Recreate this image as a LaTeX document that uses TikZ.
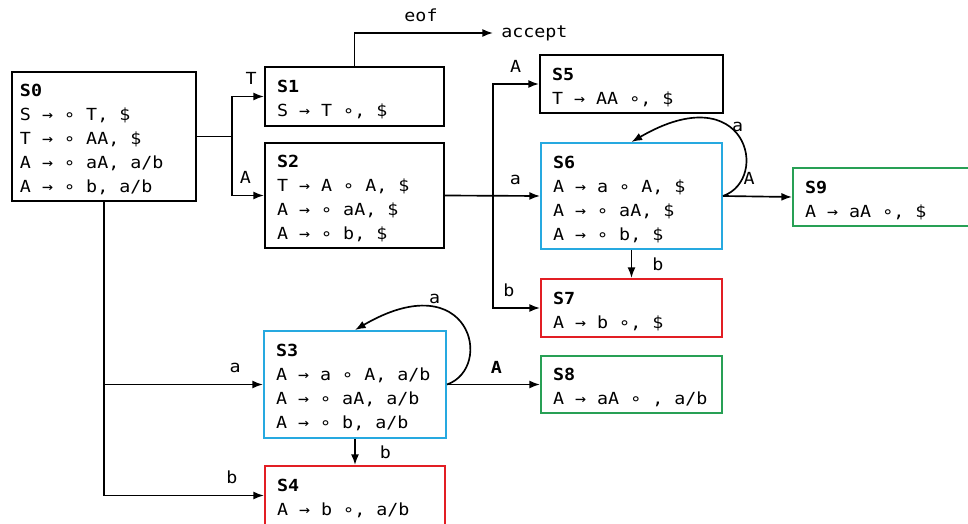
\documentclass[tikz,border=0pt]{standalone}
\usepackage{fontspec}
\setmonofont[FakeStretch=1.1]{DejaVu Sans Mono}
\usepackage{xcolor}
\usepackage{tikz}
\usetikzlibrary{arrows.meta,positioning}

\definecolor{setblue}{RGB}{38,169,224}
\definecolor{setgreen}{RGB}{40,160,85}
\definecolor{setred}{RGB}{226,30,36}

\newcommand{\itemfont}{\ttfamily\fontsize{12.5}{18}\selectfont}
\newlength{\chw}
\AtBeginDocument{\settowidth{\chw}{\itemfont 0}}
\newcommand{\itemarr}{\makebox[\chw]{→}}
\newcommand{\itemdot}{\makebox[\chw]{∘}}
\newcommand{\isp}{\hspace*{\chw}}
\newcommand{\settitle}[1]{\rule{0pt}{14pt}\textbf{#1}}

\tikzset{
    itemset/.style={
        draw,
        line width=1.5pt,
        align=left,
        inner xsep=9pt,
        inner ysep=0pt,
        font=\itemfont
    },
    conn/.style={
        ->,
        >={Latex[length=8pt,width=6pt]},
        line width=1.25pt
    },
    lbl/.style={
        font=\itemfont,
        inner sep=1pt
    }
}

\begin{document}
\begin{tikzpicture}[x=0.75pt, y=-0.75pt]
                \useasboundingbox (0,0) rectangle (968,524);

                % item sets
                \node[itemset, inner xsep=6pt, text width=126pt, minimum height=96.75pt] (s0) at (104,136.5)
                    {\settitle{S0}\\S\isp\itemarr\isp\itemdot\isp T,\isp\$\\T\isp\itemarr\isp\itemdot\isp AA,\isp\$\\
                     A\isp\itemarr\isp\itemdot\isp aA,\isp a/b\\A\isp\itemarr\isp\itemdot\isp b,\isp a/b};
                \node[itemset, text width=116.25pt, minimum height=44.25pt] (s1) at (354.5,96.5)
                    {\settitle{S1}\\S\isp\itemarr\isp T\isp\itemdot,\isp\$};
                \node[itemset, text width=116.25pt, minimum height=78.75pt] (s2) at (354.5,195.5)
                    {\settitle{S2}\\T\isp\itemarr\isp A\isp\itemdot\isp A,\isp\$\\A\isp\itemarr\isp\itemdot\isp aA,\isp\$\\
                     A\isp\itemarr\isp\itemdot\isp b,\isp\$};
                \node[itemset, draw=setblue, text width=118.5pt, minimum height=80.25pt] (s3) at (355,384.5)
                    {\settitle{S3}\\A\isp\itemarr\isp a\isp\itemdot\isp A,\isp a/b\\A\isp\itemarr\isp\itemdot\isp aA,\isp a/b\\
                     A\isp\itemarr\isp\itemdot\isp b,\isp a/b};
                \node[itemset, draw=setred, text width=117pt, minimum height=44.25pt] (s4) at (355,495.5)
                    {\settitle{S4}\\A\isp\itemarr\isp b\isp\itemdot,\isp a/b};
                \node[itemset, text width=119.25pt, minimum height=43.5pt] (s5) at (631.5,84)
                    {\settitle{S5}\\T\isp\itemarr\isp AA\isp\itemdot,\isp\$};
                \node[itemset, draw=setblue, text width=117.75pt, minimum height=79.5pt] (s6) at (631.5,196)
                    {\settitle{S6}\\A\isp\itemarr\isp a\isp\itemdot\isp A,\isp\$\\A\isp\itemarr\isp\itemdot\isp aA,\isp\$\\
                     A\isp\itemarr\isp\itemdot\isp b,\isp\$};
                \node[itemset, draw=setred, text width=117.75pt, minimum height=43.5pt] (s7) at (631.5,308)
                    {\settitle{S7}\\A\isp\itemarr\isp b\isp\itemdot,\isp\$};
                \node[itemset, draw=setgreen, text width=117.75pt, minimum height=42.75pt] (s8) at (631.5,384.5)
                    {\settitle{S8}\\A\isp\itemarr\isp aA\isp\itemdot\isp,\isp a/b};
                \node[itemset, draw=setgreen, text width=117.75pt, minimum height=43.5pt] (s9) at (883.5,197)
                    {\settitle{S9}\\A\isp\itemarr\isp aA\isp\itemdot,\isp\$};
                \node[anchor=west, font=\itemfont, inner xsep=6pt] (acc) at (493,33) {accept};

                % branch points
                \coordinate (j0) at (232,136.5);
                \coordinate (j2) at (493,195.5);

                % transitions
                \draw[conn, -] (s0.east) -- (j0);
                \draw[conn] (j0) |- (s1.west) node[lbl, pos=0.8, above=7pt] {T};
                \draw[conn] (j0) |- (s2.west) node[lbl, pos=0.71, above=7pt] {A};
                \draw[conn] (s1.north) |- (acc.west) node[lbl, pos=0.74, above=7pt] {eof};
                \draw[conn] (s2.east) -- (s6.west) node[lbl, pos=0.74, above=7pt] {a};
                \draw[conn] (j2) |- (s5.west) node[lbl, pos=0.745, above=7pt] {A};
                \draw[conn] (j2) |- (s7.west) node[lbl, pos=0.67, above=7pt] {b};
                \draw[conn] (s6.east) .. controls +(48,-17) and +(115,-67) .. (s6.north)
                    node[lbl, pos=0.6, right=2pt] {a};
                \draw[conn] (s6.east) -- (s9.west) node[lbl, pos=0.38, above=7pt] {A};
                \draw[conn] (s6.south) -- (s7.north) node[lbl, midway, right=14pt] {b};
                \draw[conn] (s0.south) |- (s4.west) node[lbl, pos=0.9, above=7pt] {b};
                \draw[conn] (s0.south |- s3.west) -- (s3.west) node[lbl, pos=0.825, above=7pt] {a};
                \draw[conn] (s3.east) .. controls +(48,-17) and +(115,-67) .. (s3.north)
                    node[lbl, pos=0.7, above=2pt] {a};
                \draw[conn] (s3.east) -- (s8.west) node[lbl, pos=0.53, above=7pt] {\textbf{A}};
                \draw[conn] (s3.south) -- (s4.north) node[lbl, midway, right=17pt] {b};

            \end{tikzpicture}
\end{document}
